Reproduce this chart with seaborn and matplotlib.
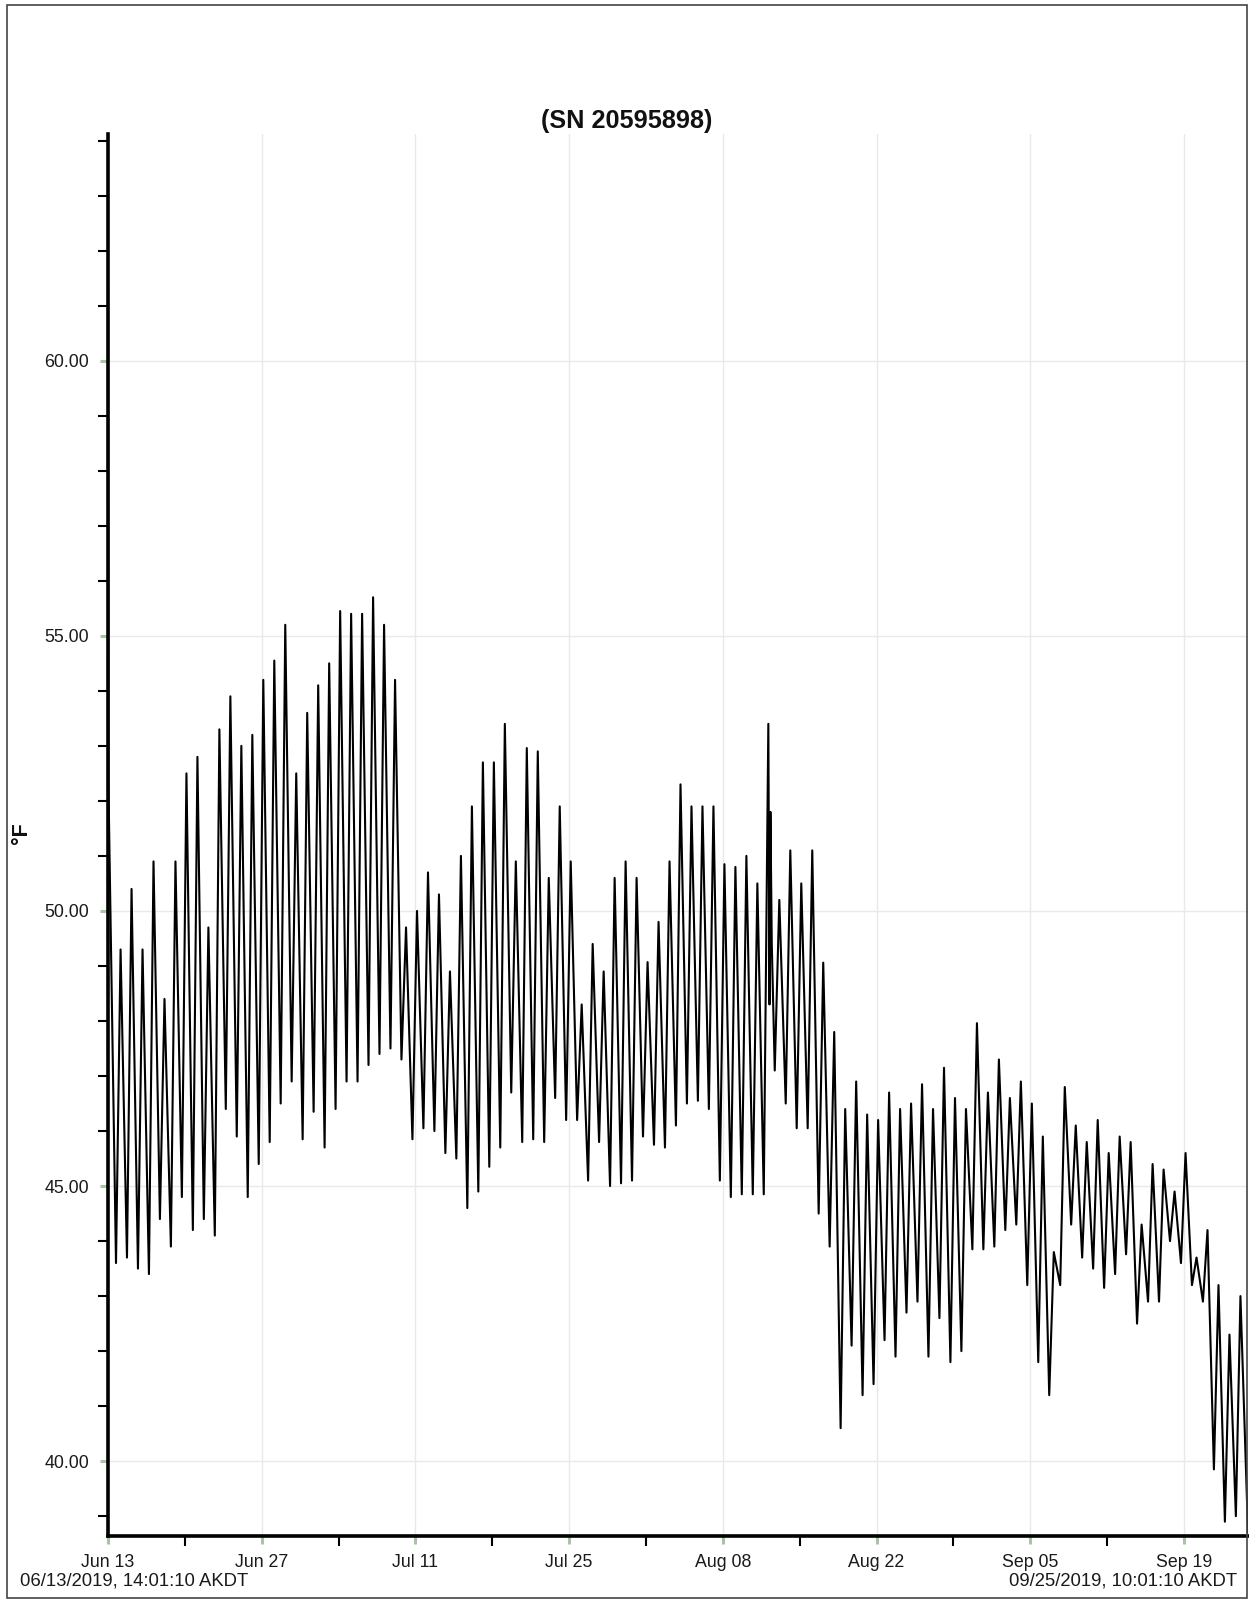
import numpy as np
import pandas as pd
import matplotlib
matplotlib.use("Agg")
import matplotlib.pyplot as plt
import matplotlib.dates as mdates
from matplotlib.patches import Rectangle
import seaborn as sns

# ---------------- data ----------------
start = pd.Timestamp("2019-06-13 14:01:10")
end = pd.Timestamp("2019-09-25 10:01:10")
title = "(SN 20595898)"
y_label = "°F"
start_label = "06/13/2019, 14:01:10 AKDT"
end_label = "09/25/2019, 10:01:10 AKDT"
x_tick_labels = ["Jun 13", "Jun 27", "Jul 11", "Jul 25", "Aug 08", "Aug 22", "Sep 05", "Sep 19"]
y_major = [40, 45, 50, 55, 60]

# daily minimum (morning) and maximum (afternoon), Jun 14 .. Sep 24
daily_min = [43.6, 43.7, 43.5, 43.4, 44.4, 43.9, 44.8, 44.2, 44.4, 44.1,
             46.4, 45.9, 44.8, 45.4, 45.8, 46.5, 46.9, 45.85, 46.35, 45.7,
             46.4, 46.9, 46.9, 47.2, 47.4, 47.5, 47.3, 45.85, 46.05, 46.0,
             45.6, 45.5, 44.6, 44.9, 45.35, 45.7, 46.7, 45.8, 45.85, 45.8,
             46.6, 46.2, 46.2, 45.1, 45.8, 45.0, 45.05, 45.1, 45.9, 45.75,
             45.7, 46.1, 46.5, 46.55, 46.4, 45.1, 44.8, 44.85, 44.85, 44.85,
             47.1, 46.5, 46.05, 46.05, 44.5, 43.9, 40.6, 42.1, 41.2, 41.4,
             42.2, 41.9, 42.7, 42.9, 41.9, 42.6, 41.8, 42.0, 43.85, 43.85,
             43.9, 44.2, 44.3, 43.2, 41.8, 41.2, 43.2, 44.3, 43.7, 43.5,
             43.15, 43.4, 43.76, 42.5, 42.9, 42.9, 44.0, 43.6, 43.2, 42.9,
             39.85, 38.9, 39.0]
daily_max = [49.3, 50.4, 49.3, 50.9, 48.4, 50.9, 52.5, 52.8, 49.7, 53.3,
             53.9, 53.0, 53.2, 54.2, 54.55, 55.2, 52.5, 53.6, 54.1, 54.5,
             55.45, 55.4, 55.4, 55.7, 55.2, 54.2, 49.7, 50.0, 50.7, 50.3,
             48.9, 51.0, 51.9, 52.7, 52.7, 53.4, 50.9, 52.96, 52.9, 50.6,
             51.9, 50.9, 48.3, 49.4, 48.9, 50.6, 50.9, 50.6, 49.07, 49.8,
             50.9, 52.3, 51.9, 51.9, 51.9, 50.85, 50.8, 51.0, 50.5, 53.4,
             50.2, 51.1, 50.5, 51.1, 49.06, 47.8, 46.4, 46.9, 46.3, 46.2,
             46.7, 46.4, 46.5, 46.85, 46.4, 47.15, 46.6, 46.4, 47.96, 46.7,
             47.3, 46.6, 46.9, 46.5, 45.9, 43.8, 46.8, 46.1, 45.8, 46.2,
             45.6, 45.9, 45.8, 44.3, 45.4, 45.3, 44.9, 45.6, 43.7, 44.2,
             43.2, 42.3, 43.0]
# logger start (out of water) and the short disturbance after the Aug 12 spike
start_times = ["2019-06-13 14:01:10", "2019-06-13 15:01:10", "2019-06-13 17:01:10"]
start_values = [61.3, 52.3, 51.2]
spike_times = ["2019-08-12 20:01:10", "2019-08-12 22:01:10", "2019-08-13 01:01:10"]
spike_values = [48.3, 51.8, 49.4]
end_value = 38.7

# ---------------- table ----------------
days = pd.date_range("2019-06-14", periods=len(daily_max), freq="D")
frames = [
    pd.DataFrame({"time": pd.to_datetime(start_times), "temp": start_values}),
    pd.DataFrame({"time": days + pd.Timedelta(hours=7, minutes=30), "temp": daily_min}),
    pd.DataFrame({"time": days + pd.Timedelta(hours=17, minutes=30), "temp": daily_max}),
    pd.DataFrame({"time": pd.to_datetime(spike_times), "temp": spike_values}),
    pd.DataFrame({"time": [end], "temp": [end_value]}),
]
df = pd.concat(frames, ignore_index=True).sort_values("time").reset_index(drop=True)

# ---------------- style ----------------
sns.set_style("white")
plt.rcParams["font.family"] = ["Liberation Sans", "DejaVu Sans"]

W, H = 1249, 1602
fig = plt.figure(figsize=(W / 100, H / 100), dpi=100)
L, R, T, B = 108, 1248, 134, 1536
ax = fig.add_axes([L / W, 1 - B / H, (R - L) / W, (B - T) / H])

sns.lineplot(data=df, x="time", y="temp", color="black", linewidth=1.5,
             estimator=None, sort=True, ax=ax)

ax.set_xlim(mdates.date2num(start), mdates.date2num(end))
ax.set_ylim(38.64, 64.12)

major_x = [start + pd.Timedelta(days=14 * k) for k in range(len(x_tick_labels))]
minor_x = [start + pd.Timedelta(days=7 + 14 * k) for k in range(7)]
ax.set_xticks(mdates.date2num(major_x))
ax.set_xticklabels(x_tick_labels)
ax.set_xticks(mdates.date2num(minor_x), minor=True)

ax.set_yticks(y_major)
ax.set_yticklabels([f"{v:.2f}" for v in y_major])
ax.set_yticks([v for v in range(39, 65) if v not in y_major], minor=True)

ax.tick_params(axis="both", which="both", bottom=True, left=True, top=False, right=False)
ax.tick_params(axis="both", which="major", direction="out", length=6, width=2.2,
               color="#a9c4a4", labelsize=12.8, labelcolor="#1a1a1a")
ax.tick_params(axis="y", which="major", pad=7.5)
ax.tick_params(axis="x", which="major", pad=7)
ax.tick_params(axis="both", which="minor", direction="out", length=7, width=1.5,
               color="black")

ax.grid(True, which="major", color="#e9e9e9", linewidth=1)
ax.set_axisbelow(True)
for s in ["top", "right"]:
    ax.spines[s].set_visible(False)
for s in ["left", "bottom"]:
    ax.spines[s].set_color("black")
    ax.spines[s].set_linewidth(2.6)

ax.set_xlabel("")
ax.set_ylabel("")

fig.text(627 / W, 1 - 121 / H, title, ha="center", va="center",
         fontsize=18.2, fontweight="bold", color="#111111")
fig.text(22 / W, 1 - 833 / H, y_label, ha="center", va="center", rotation=90,
         fontsize=15.5, fontweight="bold", color="#111111")
fig.text(20 / W, 1 - 1581 / H, start_label, ha="left", va="center",
         fontsize=13.3, color="#1a1a1a")
fig.text(1237 / W, 1 - 1581 / H, end_label, ha="right", va="center",
         fontsize=13.3, color="#1a1a1a")

fig.patches.append(Rectangle((7 / W, 1 - 1598 / H), (1247 - 7) / W, (1598 - 5) / H,
                             transform=fig.transFigure, fill=False,
                             edgecolor="#444444", linewidth=1.2))

fig.savefig("out.png", dpi=100)
